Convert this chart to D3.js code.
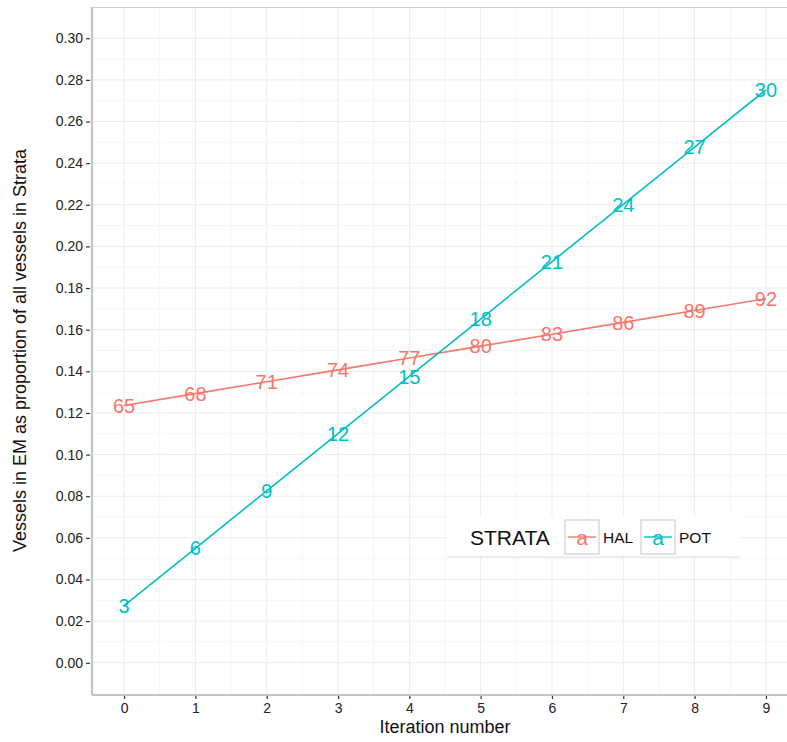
<!DOCTYPE html>
<html><head><meta charset="utf-8">
<script src="https://cdn.jsdelivr.net/npm/d3@7"></script>
<style>body{margin:0;background:#fff;} text{font-family:"Liberation Sans",Arial,sans-serif;}</style>
</head><body>
<svg id="c" width="787" height="742"></svg>
<script>
const iterations = [0,1,2,3,4,5,6,7,8,9];
const halValues = [0.1236,0.1293,0.1350,0.1407,0.1464,0.1521,0.1578,0.1635,0.1692,0.1749];
const halLabels = ["65","68","71","74","77","80","83","86","89","92"];
const potValues = [0.0275,0.0550,0.0826,0.1101,0.1376,0.1651,0.1927,0.2202,0.2477,0.2752];
const potLabels = ["3","6","9","12","15","18","21","24","27","30"];
const seriesNames = ["HAL","POT"];
const seriesColors = ["#F8766D","#00BFC4"];
const yTicks = [0,0.02,0.04,0.06,0.08,0.10,0.12,0.14,0.16,0.18,0.20,0.22,0.24,0.26,0.28,0.30];
const xTicks = [0,1,2,3,4,5,6,7,8,9];

const svg = d3.select("#c");
const L=92, T=7, B=694, R=798;
const x = d3.scaleLinear().domain([-0.45,9.45]).range([L,R]);
const y = d3.scaleLinear().domain([-0.015,0.315]).range([B,T]);

const g = svg.append("g");
const yMinor = d3.range(0.01,0.31,0.02);
const xMinor = d3.range(-0.5,9.6,1).filter(v=>v>-0.45&&v<9.45);
g.selectAll(".ymi").data(yMinor).enter().append("line")
 .attr("x1",L).attr("x2",R).attr("y1",d=>y(d)).attr("y2",d=>y(d)).attr("stroke","#f4f4f4").attr("stroke-width",0.8);
g.selectAll(".xmi").data(xMinor).enter().append("line")
 .attr("y1",T).attr("y2",B).attr("x1",d=>x(d)).attr("x2",d=>x(d)).attr("stroke","#f4f4f4").attr("stroke-width",0.8);
g.selectAll(".yma").data(yTicks).enter().append("line")
 .attr("x1",L).attr("x2",R).attr("y1",d=>y(d)).attr("y2",d=>y(d)).attr("stroke","#ebebeb").attr("stroke-width",1);
g.selectAll(".xma").data(xTicks).enter().append("line")
 .attr("y1",T).attr("y2",B).attr("x1",d=>x(d)).attr("x2",d=>x(d)).attr("stroke","#ebebeb").attr("stroke-width",1);
g.append("line").attr("x1",L).attr("x2",R).attr("y1",T+0.5).attr("y2",T+0.5).attr("stroke","#cfcfcf").attr("stroke-width",1.2);

const yAxis = d3.axisLeft(y).tickValues(yTicks).tickFormat(d3.format(".2f")).tickSize(4).tickPadding(3);
const ya = svg.append("g").attr("transform",`translate(${L-2},0)`).call(yAxis);
const xAxis = d3.axisBottom(x).tickValues(xTicks).tickFormat(d3.format("d")).tickSize(4).tickPadding(4);
const xa = svg.append("g").attr("transform",`translate(0,${B+1})`).call(xAxis);
[ya,xa].forEach(a=>{
  a.select(".domain").remove();
  a.selectAll(".tick line").attr("stroke","#333").attr("stroke-width",1.2);
  a.selectAll(".tick text").attr("fill","#222").style("font-size","14px");
});
svg.append("line").attr("x1",L).attr("x2",L).attr("y1",T).attr("y2",B+1).attr("stroke","#c4c4c4").attr("stroke-width",2.2);
svg.append("line").attr("x1",L).attr("x2",R).attr("y1",B+1).attr("y2",B+1).attr("stroke","#c4c4c4").attr("stroke-width",2.2);

const series = [
  {name:seriesNames[0], color:seriesColors[0], vals:halValues, labs:halLabels},
  {name:seriesNames[1], color:seriesColors[1], vals:potValues, labs:potLabels}
];
const line = d3.line().x(d=>x(d[0])).y(d=>y(d[1]));
series.forEach(s=>{
  const pts = iterations.map((it,i)=>[it,s.vals[i],s.labs[i]]);
  svg.append("path").datum(pts).attr("d",line).attr("fill","none").attr("stroke",s.color).attr("stroke-width",1.6);
  svg.selectAll(null).data(pts).enter().append("text")
   .attr("x",d=>x(d[0])).attr("y",d=>y(d[1])).attr("dy","0.36em").attr("text-anchor","middle")
   .attr("fill",s.color).style("font-size","20px").text(d=>d[2]);
});

svg.append("text").attr("x",(L+R)/2).attr("y",733).attr("text-anchor","middle").attr("fill","#111").style("font-size","18px").text("Iteration number");
svg.append("text").attr("transform",`translate(26,${(T+B)/2}) rotate(-90)`).attr("text-anchor","middle").attr("fill","#111").style("font-size","18px").text("Vessels in EM as proportion of all vessels in Strata");

const lg = svg.append("g");
lg.append("rect").attr("x",447).attr("y",516).attr("width",293).attr("height",41).attr("fill","#fff");
lg.append("line").attr("x1",447).attr("x2",740).attr("y1",557).attr("y2",557).attr("stroke","#dcdcdc").attr("stroke-width",1);
lg.append("text").attr("x",470).attr("y",537).attr("dy","0.36em").attr("fill","#111").style("font-size","21px").text("STRATA");
const keyX = [565,641];
series.forEach((s,i)=>{
  const kx=keyX[i];
  lg.append("rect").attr("x",kx).attr("y",520).attr("width",34).attr("height",34).attr("fill","#fff").attr("stroke","#cfcfcf").attr("stroke-width",1.2);
  lg.append("line").attr("x1",kx+3).attr("x2",kx+31).attr("y1",537).attr("y2",537).attr("stroke",s.color).attr("stroke-width",1.4);
  lg.append("text").attr("x",kx+17).attr("y",537).attr("dy","0.36em").attr("text-anchor","middle").attr("fill",s.color).style("font-size","21px").text("a");
  lg.append("text").attr("x",kx+38).attr("y",537).attr("dy","0.36em").attr("fill","#111").style("font-size","15.5px").text(s.name);
});
</script>
</body></html>
